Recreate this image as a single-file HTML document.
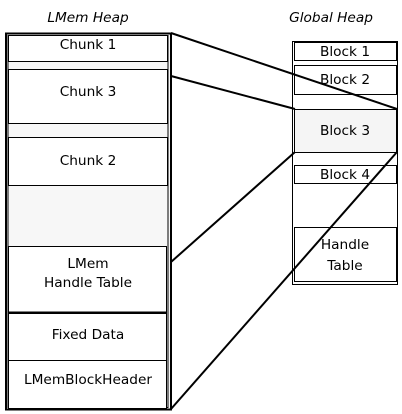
<!DOCTYPE html>
<html><head><style>html,body{margin:0;padding:0;background:#fff}svg{display:block}</style></head><body>
<svg width="402" height="414" xmlns="http://www.w3.org/2000/svg" font-family="DejaVu Sans, Liberation Sans, sans-serif" font-size="13.7" fill="#000">
<rect x="0" y="0" width="402" height="414" fill="#fff"/>
<text x="88" y="22" text-anchor="middle" font-style="italic" font-size="13.7">LMem Heap</text>
<text x="331" y="22" text-anchor="middle" font-style="italic" font-size="13.7">Global Heap</text>
<rect x="6" y="33.5" width="165" height="376" fill="#f7f7f7" stroke="#000" stroke-width="2"/>
<rect x="8" y="35.5" width="160" height="372" fill="none" stroke="#000" stroke-width="1"/>
<rect x="8.5" y="35.5" width="159" height="26" fill="#fff" stroke="#000"/>
<text x="88" y="49" text-anchor="middle">Chunk 1</text>
<rect x="8.5" y="69.5" width="159" height="54" fill="#fff" stroke="#000"/>
<text x="88" y="96" text-anchor="middle">Chunk 3</text>
<rect x="8.5" y="137.5" width="159" height="48" fill="#fff" stroke="#000"/>
<text x="88" y="165" text-anchor="middle">Chunk 2</text>
<rect x="8.5" y="246.5" width="158" height="66" fill="#fff" stroke="#000"/>
<text x="88" y="268" text-anchor="middle">LMem</text>
<text x="88" y="287" text-anchor="middle">Handle Table</text>
<line x1="8" y1="312.5" x2="167" y2="312.5" stroke="#000" stroke-width="2"/>
<rect x="8.5" y="313.5" width="158" height="47" fill="#fff" stroke="#000"/>
<text x="88" y="339" text-anchor="middle">Fixed Data</text>
<rect x="8.5" y="360.5" width="158" height="48" fill="#fff" stroke="#000"/>
<text x="88" y="384" text-anchor="middle">LMemBlockHeader</text>
<rect x="292.5" y="41.5" width="105" height="243" fill="#fff" stroke="#000"/>
<rect x="294.5" y="42.5" width="102" height="18" fill="#fff" stroke="#000"/>
<text x="345" y="56" text-anchor="middle">Block 1</text>
<rect x="294.5" y="65.5" width="102" height="29" fill="#fff" stroke="#000"/>
<text x="345" y="84" text-anchor="middle">Block 2</text>
<rect x="294.5" y="109.5" width="102" height="43" fill="#f5f5f5" stroke="#000"/>
<text x="345" y="135" text-anchor="middle">Block 3</text>
<rect x="294.5" y="165.5" width="102" height="18" fill="#fff" stroke="#000"/>
<text x="345" y="179" text-anchor="middle">Block 4</text>
<rect x="294.5" y="227.5" width="102" height="54" fill="#fff" stroke="#000"/>
<text x="345" y="249" text-anchor="middle">Handle</text>
<text x="345" y="270" text-anchor="middle">Table</text>
<g stroke="#000" stroke-width="2" fill="none">
<line x1="171" y1="33" x2="397" y2="109"/>
<line x1="171" y1="76" x2="295" y2="109"/>
<line x1="171" y1="262" x2="295" y2="152"/>
<line x1="171" y1="409" x2="397" y2="152"/>
</g>
</svg>
</body></html>
